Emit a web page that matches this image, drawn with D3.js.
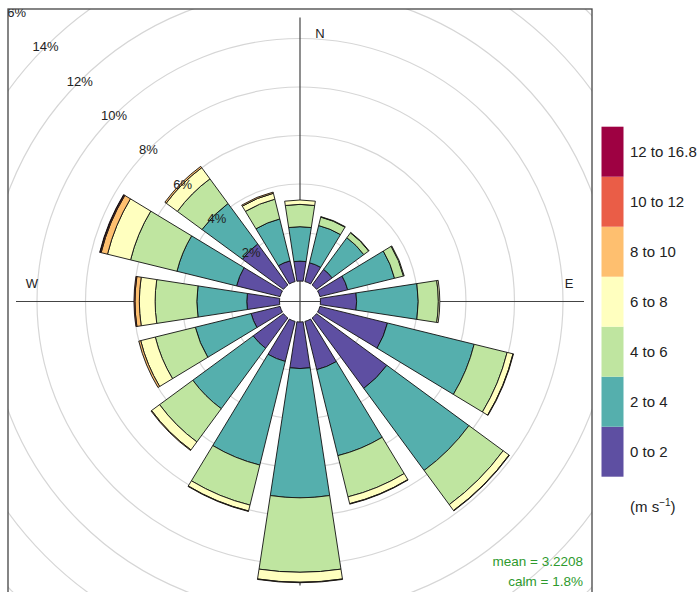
<!DOCTYPE html>
<html lang="en">
<head>
<meta charset="UTF-8">
<script src="https://d3js.org/d3.v7.min.js"></script>
<title>Wind rose</title>
<style>
  body { margin: 0; background: #fff; }
  text { font-family: "Liberation Sans", Arial, sans-serif; }
</style>
</head>
<body>
<div id="container"></div>
<script>
// directions (bearing, degrees clockwise from north)
var directions = ["N","NNE","NE","ENE","E","ESE","SE","SSE","S","SSW","SW","WSW","W","WNW","NW","NNW"];
var bearings = [0,22.5,45,67.5,90,112.5,135,157.5,180,202.5,225,247.5,270,292.5,315,337.5];

// frequency (%) of each speed bin per direction
var s0_2   = [0.82,0.80,0.80,1.18,1.49,2.87,3.60,2.05,1.92,1.70,1.55,1.23,1.35,1.85,2.10,0.88];
var s2_4   = [1.42,1.58,1.62,1.99,2.54,3.68,4.20,3.65,5.33,4.40,3.09,2.37,2.06,2.53,2.07,1.78];
var s4_6   = [0.92,0.36,0.25,0.38,0.83,1.40,1.75,1.75,3.07,1.70,1.70,1.70,1.72,1.97,1.26,0.84];
var s6_8   = [0.18,0.02,0.02,0.03,0.06,0.25,0.30,0.29,0.41,0.25,0.41,0.62,0.65,0.98,0.57,0.25];
var s8_10  = [0,0,0,0,0,0.02,0.02,0.02,0.02,0.02,0.03,0.08,0.18,0.27,0.07,0.05];
var s10_12 = [0,0,0,0,0,0,0,0,0,0,0,0,0.04,0.04,0,0];
var s12_16 = [0,0,0,0,0,0,0,0,0,0,0,0,0,0.02,0,0];

var speedBins = ["0 to 2","2 to 4","4 to 6","6 to 8","8 to 10","10 to 12","12 to 16.8"];
var binColours = ["#5E4FA2","#55AFAD","#BFE5A0","#FFFFBF","#FEBF6F","#EA5D47","#9E0142"];
var ringTicks = [2,4,6,8,10,12,14,16];
var meanText = "mean = 3.2208";
var calmText = "calm = 1.8%";

var width = 700, height = 592;
var cx = 300, cy = 301.5;
var binSeries = [s0_2, s2_4, s4_6, s6_8, s8_10, s10_12, s12_16];

var rows = directions.map(function(d, i) {
    var row = {dir: d, bearing: bearings[i]};
    speedBins.forEach(function(b, j) { row[b] = binSeries[j][i]; });
    return row;
});

var stack = d3.stack().keys(speedBins);
var series = stack(rows);

// radius scale: % frequency -> pixels (with central hole)
var r = d3.scaleLinear().domain([0, 16]).range([20.5, 408.5]);
var colour = d3.scaleOrdinal().domain(speedBins).range(binColours);
var halfW = 8.7; // half angular width of each bar
var rad = function(deg) { return deg * Math.PI / 180; };

var svg = d3.select("#container").append("svg")
    .attr("width", width).attr("height", height);

svg.append("defs").append("clipPath").attr("id", "panel")
    .append("rect").attr("x", 8).attr("y", 9).attr("width", 584).attr("height", 600);

var panel = svg.append("g").attr("clip-path", "url(#panel)");
var g = panel.append("g").attr("transform", `translate(${cx},${cy})`);

// grid rings
g.selectAll(".ring").data(ringTicks).enter().append("circle")
    .attr("class", "ring")
    .attr("r", function(d) { return r(d); })
    .attr("fill", "none")
    .attr("stroke", "#d6d6d6")
    .attr("stroke-width", 1.2);

// compass axes
var axisLen = 284;
[0, 90, 180, 270].forEach(function(a) {
    g.append("line")
        .attr("x1", 0).attr("y1", 0)
        .attr("x2", axisLen * Math.sin(rad(a)))
        .attr("y2", -axisLen * Math.cos(rad(a)))
        .attr("stroke", "#444").attr("stroke-width", 1.2);
});
var compass = [{t:"N", x:20, y:-268}, {t:"E", x:269, y:-18}, {t:"S", x:20, y:268}, {t:"W", x:-268, y:-18}];
g.selectAll(".compass").data(compass).enter().append("text")
    .attr("x", function(d) { return d.x; })
    .attr("y", function(d) { return d.y; })
    .attr("text-anchor", "middle").attr("dominant-baseline", "central")
    .style("font-size", "13px").attr("fill", "#222")
    .text(function(d) { return d.t; });

// bars
var arc = d3.arc()
    .innerRadius(function(d) { return r(d[0]); })
    .outerRadius(function(d) { return r(d[1]); })
    .startAngle(function(d) { return rad(d.data.bearing - halfW); })
    .endAngle(function(d) { return rad(d.data.bearing + halfW); });

g.selectAll(".bin").data(series).enter().append("g")
    .attr("class", "bin")
    .attr("fill", function(d) { return colour(d.key); })
    .selectAll("path")
    .data(function(d) { return d.filter(function(p) { return p[1] - p[0] > 0; }); })
    .enter().append("path")
    .attr("d", arc)
    .attr("stroke", "#111")
    .attr("stroke-width", 0.9)
    .attr("stroke-linejoin", "round");

// ring labels along the NW diagonal (outermost one is cut by the panel, as in the source)
g.selectAll(".ringlab").data(ringTicks).enter().append("text")
    .attr("x", function(d) { return -r(d) * Math.SQRT1_2 + (d === 16 ? 2 : 0); })
    .attr("y", function(d) { return -r(d) * Math.SQRT1_2; })
    .attr("text-anchor", "middle").attr("dominant-baseline", "central")
    .style("font-size", "13px").attr("fill", "#222")
    .text(function(d) { return d + "%"; });

// mean / calm
panel.append("text").attr("x", 583).attr("y", 566).attr("text-anchor", "end")
    .style("font-size", "13.5px").attr("fill", "#2e9a2e").text(meanText);
panel.append("text").attr("x", 583).attr("y", 586).attr("text-anchor", "end")
    .style("font-size", "13.5px").attr("fill", "#2e9a2e").text(calmText);

// panel border
svg.append("rect").attr("x", 8).attr("y", 9).attr("width", 584).attr("height", 600)
    .attr("fill", "none").attr("stroke", "#444").attr("stroke-width", 1.3);

// legend
var legY = d3.scaleBand().domain(speedBins.slice().reverse()).range([126.7, 476.7]);
var leg = svg.append("g");
leg.selectAll("rect").data(speedBins).enter().append("rect")
    .attr("x", 601.5).attr("width", 22)
    .attr("y", function(d) { return legY(d); })
    .attr("height", legY.bandwidth())
    .attr("fill", function(d) { return colour(d); });
leg.selectAll("text").data(speedBins).enter().append("text")
    .attr("x", 630)
    .attr("y", function(d) { return legY(d) + legY.bandwidth() / 2; })
    .attr("dominant-baseline", "central")
    .style("font-size", "15px").attr("fill", "#222")
    .text(function(d) { return d; });
var unit = leg.append("text").attr("x", 630).attr("y", 512)
    .style("font-size", "15px").attr("fill", "#222");
unit.append("tspan").text("(m s");
unit.append("tspan").attr("dy", -6).style("font-size", "10px").text("\u22121");
unit.append("tspan").attr("dy", 6).text(")");
</script>
</body>
</html>
